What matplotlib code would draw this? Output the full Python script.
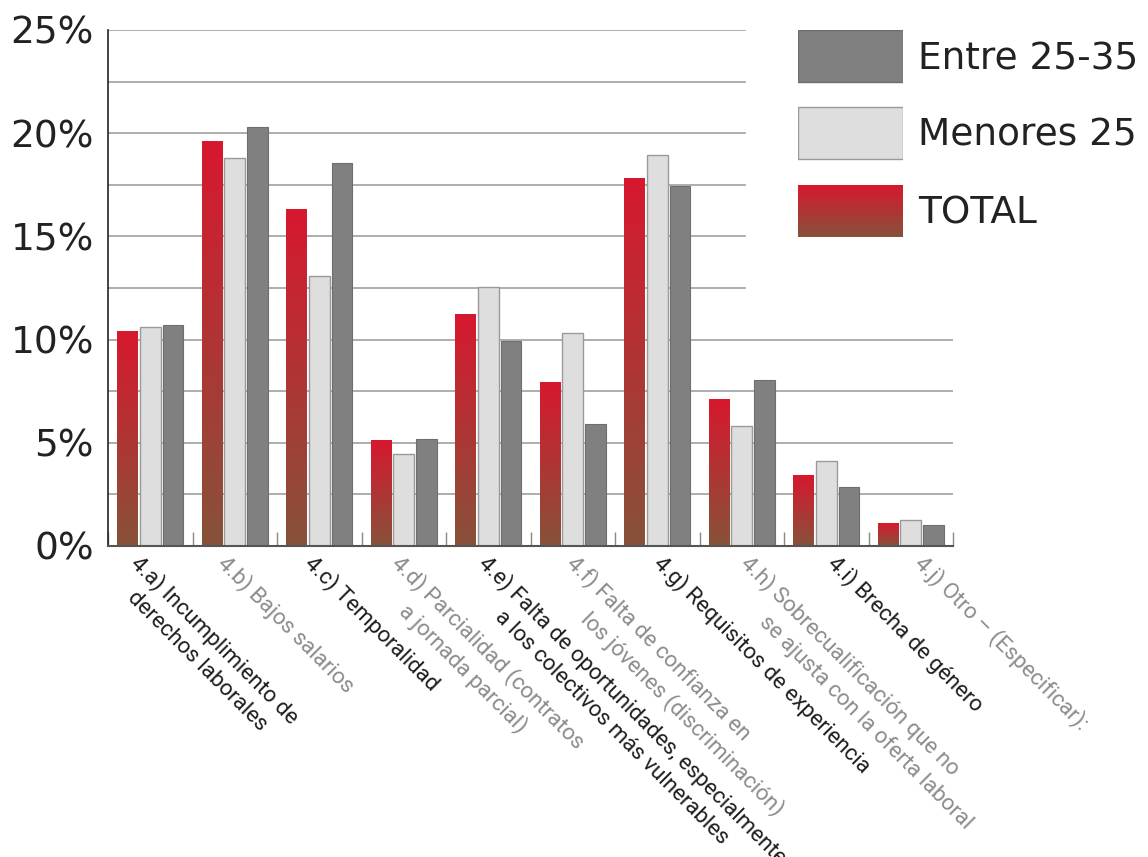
import numpy as np
import matplotlib
matplotlib.use('Agg')
import matplotlib.pyplot as plt
from matplotlib.colors import LinearSegmentedColormap
from matplotlib.patches import Rectangle
import matplotlib.transforms as mtransforms


categories = [
    "4.a) Incumplimiento de\nderechos laborales",
    "4.b) Bajos salarios",
    "4.c) Temporalidad",
    "4.d) Parcialidad (contratos\na jornada parcial)",
    "4.e) Falta de oportunidades, especialmente,\na los colectivos más vulnerables",
    "4.f) Falta de confianza en\nlos jóvenes (discriminación)",
    "4.g) Requisitos de experiencia",
    "4.h) Sobrecualificación que no\nse ajusta con la oferta laboral",
    "4.i) Brecha de género",
    "4.j) Otro – (Especificar):",
]
total = [10.4, 19.6, 16.3, 5.1, 11.2, 7.9, 17.8, 7.1, 3.4, 1.1]
menores_25 = [10.6, 18.8, 13.1, 4.45, 12.55, 10.3, 18.95, 5.8, 4.1, 1.25]
entre_25_35 = [10.7, 20.3, 18.55, 5.2, 9.95, 5.9, 17.45, 8.05, 2.85, 1.0]
y_ticks = [0, 5, 10, 15, 20, 25]
series_names = ["Entre 25-35", "Menores 25", "TOTAL"]

# how far the second line of each label is pushed in (in spaces)
indent = [4, 0, 0, 7, 9, 9, 0, 10, 0, 0]

red_top = "#d7182f"
red_bottom = "#87523a"
light_gray = "#dedede"
dark_gray = "#808080"

grad_cmap = LinearSegmentedColormap.from_list("tot", [red_bottom, red_top])
grad = np.linspace(0, 1, 256).reshape(-1, 1)

label_font = ['Roboto']
main_font = ['DejaVu Sans']

fig = plt.figure(figsize=(11.48, 8.57), dpi=100)
ax = fig.add_axes([108 / 1148, 1 - 546 / 857, 845 / 1148, 516 / 857])

x = np.arange(len(categories))
w = 0.245
off = 0.27

# gridlines (upper ones stop before the legend)
for yv in np.arange(2.5, 25.01, 2.5):
    xmax = 0.754 if yv > 11 else 1.0
    ax.axhline(yv, xmin=0, xmax=xmax, color="#a0a0a0", lw=1.2, zorder=1)

# TOTAL bars with vertical gradient
for xi, v in zip(x - off, total):
    ax.imshow(grad, extent=[xi - w / 2, xi + w / 2, 0, v], origin='lower',
              aspect='auto', cmap=grad_cmap, zorder=2, interpolation='bilinear')
ax.bar(x, menores_25, w, color=light_gray, edgecolor="#9a9a9a", lw=1.0, zorder=2)
ax.bar(x + off, entre_25_35, w, color=dark_gray, edgecolor="#6e6e6e", lw=0.8, zorder=2)

ax.set_xlim(-0.5, 9.5)
ax.set_ylim(0, 25)

for s in ["top", "right"]:
    ax.spines[s].set_visible(False)
ax.spines["left"].set_color("#222222")
ax.spines["bottom"].set_color("#555555")
ax.spines["left"].set_linewidth(1.2)
ax.spines["bottom"].set_linewidth(1.5)

ax.set_yticks(y_ticks)
ax.set_yticklabels([f"{t}%" for t in y_ticks], fontsize=27, color="#222222",
                   family=main_font)
ax.tick_params(axis='y', length=0, pad=10)

ax.set_xticks(np.arange(-0.5, 9.6, 1.0))
ax.set_xticklabels([])
ax.tick_params(axis='x', direction='in', length=10, width=1, color="#888888")

# rotated category labels
trans = mtransforms.blended_transform_factory(ax.transData, ax.transAxes)
for i, lab in enumerate(categories):
    col = "#1e1e1e" if i % 2 == 0 else "#8c8c8c"
    lines = lab.split("\n")
    if len(lines) > 1:
        lab = lines[0] + "\n" + " " * indent[i] + lines[1]
    ax.text(i - 0.095 + 0.031 * i, -0.011, lab, transform=trans, rotation=-45,
            rotation_mode='anchor', ha='left', va='top', multialignment='left',
            fontsize=16, color=col, family=label_font, linespacing=1.35)

# legend drawn by hand
lax = fig.add_axes([798 / 1148, 1 - 237 / 857, 105 / 1148, 207 / 857])
lax.axis('off')
sw = [(0, dark_gray, "#6e6e6e"), (77, light_gray, "#9a9a9a"), (155, None, None)]
for (top, fc, ec), name in zip(sw, series_names):
    if fc is None:
        lax.imshow(grad, extent=[0, 105, top + 52, top], origin='lower',
                   aspect='auto', cmap=grad_cmap, interpolation='bilinear')
    else:
        lax.add_patch(Rectangle((0, top), 105, 52, facecolor=fc, edgecolor=ec, lw=1.0))
    lax.text(120, top + 29, name, va='center', ha='left', fontsize=27,
             color="#222222", family=main_font, clip_on=False)
lax.set_xlim(0, 105)
lax.set_ylim(207, 0)

fig.savefig("out.png", dpi=100)
